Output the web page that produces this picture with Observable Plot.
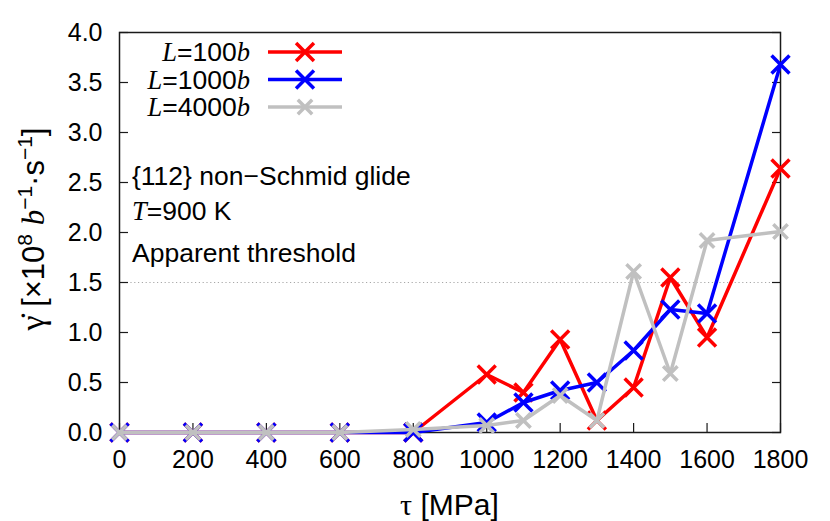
<!DOCTYPE html>
<html><head><meta charset="utf-8">
<script src="https://cdn.jsdelivr.net/npm/d3@7"></script>
<script src="https://cdn.jsdelivr.net/npm/@observablehq/plot@0.6"></script>
<style>
body{margin:0;background:#fff}
#chart{position:relative;width:830px;height:521px}
</style>
</head><body><div id="chart"></div>
<script>
// ---- data ----
const tau = [0, 200, 400, 600, 800, 1000, 1100, 1200, 1300, 1400, 1500, 1600, 1800];
const rateL100  = [0, 0, 0, 0, 0,    0.58, 0.40, 0.93, 0.12, 0.45, 1.55, 0.95, 2.64];
const rateL1000 = [0, 0, 0, 0, 0,    0.10, 0.30, 0.42, 0.50, 0.82, 1.23, 1.19, 3.68];
const rateL4000 = [0, 0, 0, 0, 0.03, 0.07, 0.12, 0.37, 0.12, 1.61, 0.59, 1.92, 2.01];
const seriesL = [100, 1000, 4000];
const xTicks = [0, 200, 400, 600, 800, 1000, 1200, 1400, 1600, 1800];
const yTicks = [0, 0.5, 1, 1.5, 2, 2.5, 3, 3.5, 4];
const threshold = [1.5];
const noteLine1 = "{112} non\u2212Schmid glide";
const noteTemp = "900 K";
const noteThreshold = "Apparent threshold";

// ---- styles ----
const colors = ["#ff0000", "#0000ff", "#c0c0c0"];
const radii = [8.2, 8.2, 6.6];
const lw = 3.5;
const sans = "'Liberation Sans', Arial, Helvetica, sans-serif";
const serif = "'Liberation Serif', 'Times New Roman', serif";

const seriesValues = [rateL100, rateL1000, rateL4000];
const series = seriesL.map((L, k) => ({
  L, color: colors[k], r: radii[k],
  rows: tau.map((t, i) => ({tau: t, rate: seriesValues[k][i]}))
}));

const W = 830, H = 521, mL = 119, mR = 50, mT = 32, mB = 89;

const marks = [
  Plot.frame({stroke: "#1a1a1a", strokeWidth: 1.5}),
  Plot.ruleY(threshold, {stroke: "#a8a8a8", strokeWidth: 1, strokeDasharray: "1.2,2.6"}),
  // tick labels
  Plot.axisX(xTicks, {tickSize: 0, tickPadding: 18, label: null, tickFormat: d => String(d)}),
  Plot.axisY(yTicks, {tickSize: 0, tickPadding: 17, label: null, tickFormat: d => d.toFixed(1)}),
  // inward ticks (bottom, left, right)
  Plot.axisX(xTicks, {tickSize: -9, tickFormat: () => "", label: null, stroke: "#1a1a1a", strokeWidth: 1.2}),
  Plot.axisY(yTicks, {tickSize: -9, tickFormat: () => "", label: null, stroke: "#1a1a1a", strokeWidth: 1.2}),
  Plot.axisY(yTicks, {anchor: "right", tickSize: -9, tickFormat: () => "", label: null, stroke: "#1a1a1a", strokeWidth: 1.2}),
];
for (const s of series) {
  marks.push(Plot.line(s.rows, {x: "tau", y: "rate", stroke: s.color, strokeWidth: lw, strokeLinejoin: "miter"}));
  marks.push(Plot.dot(s.rows, {x: "tau", y: "rate", symbol: "times", r: s.r, stroke: s.color, strokeWidth: lw}));
}

const plot = Plot.plot({
  width: W, height: H,
  marginLeft: mL, marginRight: mR, marginTop: mT, marginBottom: mB,
  x: {domain: [0, 1800]},
  y: {domain: [0, 4]},
  style: {fontFamily: sans, fontSize: "25px", color: "#000", background: "#fff", overflow: "visible"},
  marks
});
document.getElementById("chart").appendChild(plot);

const svg = d3.select(plot);
const fL = mL, fT = mT;

// ---- annotations ----
const ann = svg.append("g").attr("font-family", sans).attr("font-size", 26.5)
  .attr("fill", "#000").attr("text-anchor", "start");
ann.append("text").attr("x", fL + 13).attr("y", fT + 153).text(noteLine1);
const t2 = ann.append("text").attr("x", fL + 13).attr("y", fT + 188);
t2.append("tspan").attr("font-family", serif).attr("font-style", "italic").text("T");
t2.append("tspan").text("=" + noteTemp);
ann.append("text").attr("x", fL + 13).attr("y", fT + 230).text(noteThreshold);

// ---- legend ----
const leg = svg.append("g").attr("font-family", sans).attr("font-size", 26.5).attr("text-anchor", "end");
series.forEach((s, k) => {
  const cy = fT + 20 + 27.5 * k;
  const tx = leg.append("text").attr("x", fL + 131).attr("y", cy + 9);
  tx.append("tspan").attr("font-family", serif).attr("font-style", "italic").text("L");
  tx.append("tspan").text("=" + s.L);
  tx.append("tspan").attr("font-family", serif).attr("font-style", "italic").text("b");
  leg.append("line").attr("x1", fL + 149).attr("x2", fL + 223).attr("y1", cy).attr("y2", cy)
    .attr("stroke", s.color).attr("stroke-width", lw);
  leg.append("path").attr("transform", `translate(${fL + 186},${cy})`)
    .attr("d", d3.symbol(d3.symbolTimes, Math.PI * s.r * s.r)())
    .attr("fill", "none").attr("stroke", s.color).attr("stroke-width", lw);
});

// ---- axis labels ----
const xl = svg.append("text").attr("x", (fL + W - mR) / 2).attr("y", 515)
  .attr("text-anchor", "middle").attr("font-family", sans).attr("font-size", 30);
xl.append("tspan").attr("font-family", serif).text("\u03C4");
xl.append("tspan").text(" [MPa]");

const yl = svg.append("text").attr("transform", `translate(44,${(fT + H - mB) / 2 - 3}) rotate(-90)`)
  .attr("text-anchor", "middle").attr("font-family", sans).attr("font-size", 31);
yl.append("tspan").attr("font-family", serif).attr("font-size", 34).text("\u03B3\u0307");
yl.append("tspan").text(" [\u00D710");
yl.append("tspan").attr("font-size", 21).attr("dy", -12).text("8");
yl.append("tspan").attr("dy", 12).text(" ");
yl.append("tspan").attr("font-family", serif).attr("font-style", "italic").text("b");
yl.append("tspan").attr("font-size", 21).attr("dy", -12).text("\u22121");
yl.append("tspan").attr("dy", 12).text("\u00B7s");
yl.append("tspan").attr("font-size", 21).attr("dy", -12).text("\u22121");
yl.append("tspan").attr("dy", 12).text("]");
</script>
</body></html>
